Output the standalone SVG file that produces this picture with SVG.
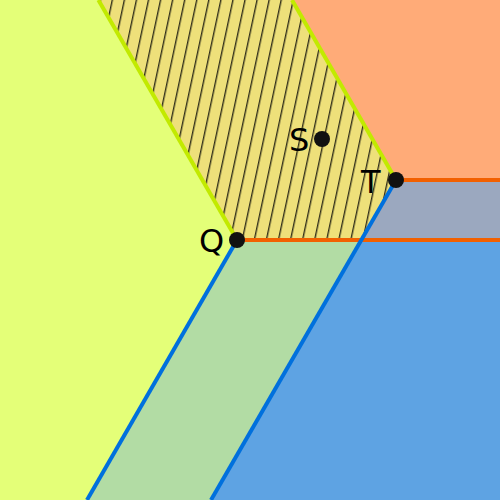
<svg xmlns="http://www.w3.org/2000/svg" width="500" height="500" viewBox="0 0 500 500">
<defs>
<pattern id="hatch" patternUnits="userSpaceOnUse" width="11.8" height="11.8" patternTransform="rotate(12)">
<rect width="11.8" height="11.8" fill="#eee07a"/>
<line x1="3.7" y1="0" x2="3.7" y2="11.8" stroke="#000" stroke-width="1.1"/>
</pattern>
</defs>
<style>
.lbl{font-family:"DejaVu Sans",sans-serif;font-size:32px;fill:#000}
.dot{fill:#111}
.yg{stroke:#c2ea00;stroke-width:4;fill:none}
.bl{stroke:#0070dd;stroke-width:4;fill:none}
.or{stroke:#f26000;stroke-width:4;fill:none}
</style>
<g id="regions">
<polygon points="0,0 98.4,0 237,240 87,500 0,500" fill="#e4ff78"/>
<polygon points="98.4,0 292,0 396,180 361.4,240 237,240" fill="url(#hatch)"/>
<polygon points="292,0 500,0 500,180 396,180" fill="#ffab78"/>
<polygon points="396,180 500,180 500,240 361.4,240" fill="#9ba8bf"/>
<polygon points="361.4,240 500,240 500,500 211,500" fill="#5ea3e3"/>
<polygon points="237,240 361.4,240 211,500 87,500" fill="#b2dca4"/>
</g>
<g id="connectors">
<line class="yg" x1="98.4" y1="0" x2="237" y2="240"/>
<line class="yg" x1="292" y1="0" x2="396" y2="180"/>
<line class="or" x1="237" y1="240" x2="500" y2="240"/>
<line class="or" x1="396" y1="180" x2="500" y2="180"/>
<line class="bl" x1="237" y1="240" x2="87" y2="500"/>
<line class="bl" x1="396" y1="180" x2="211" y2="500"/>
</g>
<g id="Q"><circle class="dot" cx="237" cy="240" r="8"/><text class="lbl" x="199" y="252">Q</text></g>
<g id="T"><circle class="dot" cx="396" cy="180" r="8"/><text class="lbl" x="361" y="193">T</text></g>
<g id="S"><circle class="dot" cx="322" cy="139" r="8"/><text class="lbl" x="289" y="151">S</text></g>
</svg>
